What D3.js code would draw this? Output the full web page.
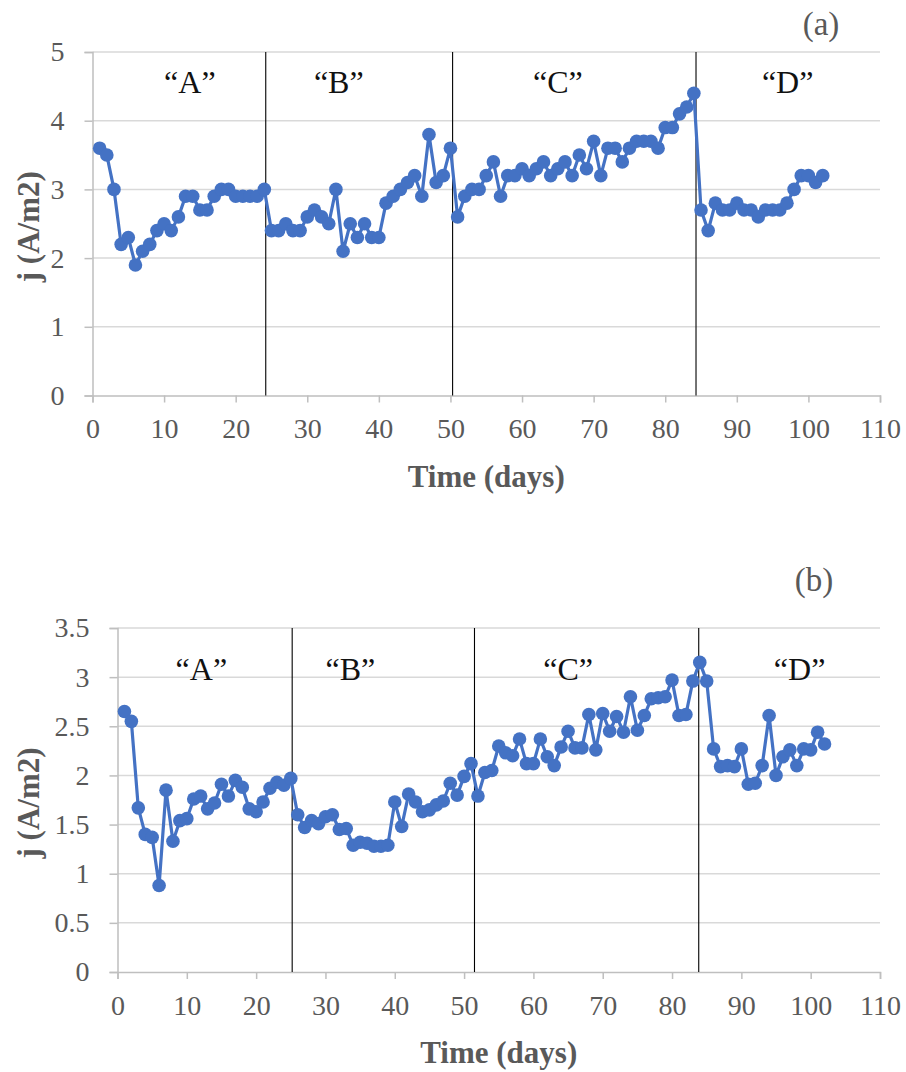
<!DOCTYPE html>
<html><head><meta charset="utf-8">
<script src="https://cdn.jsdelivr.net/npm/d3@7"></script>
<style>body{margin:0;background:#fff}svg{display:block}</style>
</head><body><svg id="c" width="906" height="1072"></svg>
<script>
// ---------- data ----------
const days = [1,2,3,4,5,6,7,8,9,10,11,12,13,14,15,16,17,18,19,20,21,22,23,24,25,26,27,28,29,30,31,32,33,34,35,36,37,38,39,40,41,42,43,44,45,46,47,48,49,50,51,52,53,54,55,56,57,58,59,60,61,62,63,64,65,66,67,68,69,70,71,72,73,74,75,76,77,78,79,80,81,82,83,84,85,86,87,88,89,90,91,92,93,94,95,96,97,98,99,100,101,102];
const jA = [3.6,3.5,3.0,2.2,2.3,1.9,2.1,2.2,2.4,2.5,2.4,2.6,2.9,2.9,2.7,2.7,2.9,3.0,3.0,2.9,2.9,2.9,2.9,3.0,
  2.4,2.4,2.5,2.4,2.4,2.6,2.7,2.6,2.5,3.0,2.1,2.5,2.3,2.5,2.3,2.3,2.8,2.9,3.0,3.1,3.2,2.9,3.8,3.1,3.2,3.6,
  2.6,2.9,3.0,3.0,3.2,3.4,2.9,3.2,3.2,3.3,3.2,3.3,3.4,3.2,3.3,3.4,3.2,3.5,3.3,3.7,3.2,3.6,3.6,3.4,3.6,3.7,3.7,3.7,3.6,3.9,3.9,4.1,4.2,4.4,
  2.7,2.4,2.8,2.7,2.7,2.8,2.7,2.7,2.6,2.7,2.7,2.7,2.8,3.0,3.2,3.2,3.1,3.2];
const jB = [2.65,2.55,1.67,1.40,1.37,0.88,1.85,1.33,1.54,1.56,1.76,1.79,1.66,1.72,1.91,1.79,1.95,1.88,1.66,1.63,1.73,1.87,1.93,1.90,1.97,
  1.60,1.47,1.54,1.51,1.58,1.60,1.45,1.46,1.29,1.32,1.31,1.28,1.28,1.29,1.73,1.48,1.81,1.73,1.63,1.65,1.70,1.74,1.92,1.80,1.99,2.12,
  1.79,2.03,2.05,2.30,2.23,2.20,2.37,2.12,2.12,2.37,2.19,2.10,2.29,2.45,2.28,2.28,2.62,2.26,2.63,2.45,2.60,2.44,2.80,2.46,2.61,2.78,2.79,2.80,2.97,2.61,2.62,2.96,3.15,
  2.96,2.27,2.09,2.10,2.09,2.27,1.91,1.92,2.10,2.61,2.00,2.19,2.26,2.10,2.27,2.26,2.44,2.32];
const xTicks = [0,10,20,30,40,50,60,70,80,90,100,110];
const yTicksA = [0,1,2,3,4,5];
const yTicksB = [0,0.5,1,1.5,2,2.5,3,3.5];
const phaseNames = ["\u201CA\u201D","\u201CB\u201D","\u201CC\u201D","\u201CD\u201D"];
const separatorsA = [24.2, 50.3, 84.3];
const separatorsB = [25.2, 51.5, 83.85];
const phaseLabelDaysA = [13.6, 34.4, 65, 97.1];
const phaseLabelDaysB = [12.1, 33.6, 65, 98.4];
const phaseLabelValA = 4.4;
const phaseLabelValB = 2.97;
const panelTags = ["(a)", "(b)"];
const xTitle = "Time (days)";
const yTitle = "j (A/m2)";

// ---------- drawing ----------
const svg = d3.select('#c');
svg.append('rect').attr('width',906).attr('height',1072).attr('fill','#fff');
const FONT = '"Liberation Serif","Times New Roman",serif';
const GRAY = '#595959';
const BLUE = '#4472C4';

function panel(o){
  const x = d3.scaleLinear().domain([0,110]).range([o.left,o.right]);
  const y = d3.scaleLinear().domain([0,o.ymax]).range([o.bottom,o.top]);
  const g = svg.append('g');
  // gridlines
  g.selectAll('.grid').data(o.yTicks.filter(v=>v>0)).join('line')
    .attr('x1',o.left).attr('x2',o.right)
    .attr('y1',d=>y(d)).attr('y2',d=>y(d))
    .attr('stroke','#d9d9d9').attr('stroke-width',1.5);
  // y axis
  const ya = g.append('g').attr('transform',`translate(${o.left},0)`)
    .call(d3.axisLeft(y).tickValues(o.yTicks).tickSize(8).tickPadding(20).tickFormat(d3.format('')));
  ya.select('.domain').attr('stroke','#bfbfbf').attr('stroke-width',1.5);
  ya.selectAll('.tick line').attr('stroke','#bfbfbf').attr('stroke-width',1.5);
  ya.selectAll('.tick text').attr('fill',GRAY).style('font-family',FONT).style('font-size','28px');
  // x axis
  const xa = g.append('g').attr('transform',`translate(0,${o.bottom})`)
    .call(d3.axisBottom(x).tickValues(xTicks).tickSize(7).tickPadding(16));
  xa.select('.domain').attr('stroke','#bfbfbf').attr('stroke-width',1.5);
  xa.selectAll('.tick line').attr('stroke','#bfbfbf').attr('stroke-width',1.5);
  xa.selectAll('.tick text').attr('fill',GRAY).style('font-family',FONT).style('font-size','28px');
  // separators
  g.selectAll('.sep').data(o.seps).join('line')
    .attr('x1',d=>x(d)).attr('x2',d=>x(d))
    .attr('y1',o.top).attr('y2',o.bottom)
    .attr('stroke','#000').attr('stroke-width',1.1);
  // phase labels
  g.selectAll('.ph').data(phaseNames).join('text')
    .attr('x',(d,i)=>x(o.labelDays[i])).attr('y',y(o.labelVal))
    .attr('text-anchor','middle').attr('fill','#111')
    .style('font-family',FONT).style('font-size','32px').text(d=>d);
  // series
  const pts = days.map((d,i)=>[d,o.vals[i]]);
  g.append('path').datum(pts)
    .attr('d',d3.line().x(d=>x(d[0])).y(d=>y(d[1])))
    .attr('fill','none').attr('stroke',BLUE).attr('stroke-width',3.2).attr('stroke-linejoin','round');
  g.selectAll('.pt').data(pts).join('circle')
    .attr('cx',d=>x(d[0])).attr('cy',d=>y(d[1])).attr('r',6.8).attr('fill',BLUE);
  // titles
  g.append('text').attr('x',(o.left+o.right)/2).attr('y',o.bottom+91)
    .attr('text-anchor','middle').attr('fill',GRAY)
    .style('font-family',FONT).style('font-size','31px').style('font-weight','bold').text(xTitle);
  g.append('text').attr('transform',`translate(39,${(o.top+o.bottom)/2+3}) rotate(-90)`)
    .attr('text-anchor','middle').attr('fill',GRAY)
    .style('font-family',FONT).style('font-size','31px').style('font-weight','bold').text(yTitle);
  g.append('text').attr('x',o.tagX).attr('y',o.tagY).attr('text-anchor','middle').attr('fill',GRAY)
    .style('font-family',FONT).style('font-size','33px').text(o.tag);
}

panel({left:92.5,right:880,top:52,bottom:395.5,ymax:5,yTicks:yTicksA,vals:jA,seps:separatorsA,
  labelDays:phaseLabelDaysA,labelVal:phaseLabelValA,tag:panelTags[0],tagX:821,tagY:35});
panel({left:117.5,right:880,top:628,bottom:972,ymax:3.5,yTicks:yTicksB,vals:jB,seps:separatorsB,
  labelDays:phaseLabelDaysB,labelVal:phaseLabelValB,tag:panelTags[1],tagX:814,tagY:591});
</script></body></html>
